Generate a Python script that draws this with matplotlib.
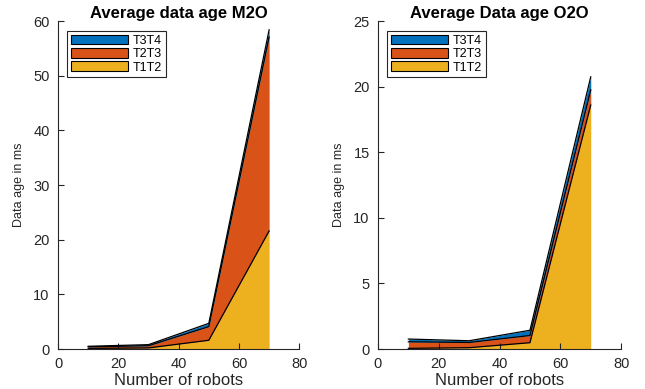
import matplotlib
matplotlib.use("Agg")
import matplotlib.pyplot as plt
from matplotlib.patches import Patch

plt.rcParams['font.family'] = ['Liberation Sans', 'DejaVu Sans']

robots = [10, 30, 50, 70]
series_names = ["T1T2", "T2T3", "T3T4"]
colors = ["#EDB120", "#D95319", "#0072BD"]

m2o_t1t2 = [0.1, 0.2, 1.6, 21.6]
m2o_t2t3 = [0.3, 0.4, 2.5, 35.5]
m2o_t3t4 = [0.1, 0.2, 0.6, 1.3]

o2o_t1t2 = [0.05, 0.1, 0.48, 18.6]
o2o_t2t3 = [0.5, 0.4, 0.55, 1.15]
o2o_t3t4 = [0.21, 0.13, 0.4, 1.0]

titles = ["Average data age M2O", "Average Data age O2O"]
ylims = [60, 25]
yticks_list = [[0, 10, 20, 30, 40, 50, 60], [0, 5, 10, 15, 20, 25]]
xticks = [0, 20, 40, 60, 80]

fig = plt.figure(figsize=(6.45, 3.89), dpi=100)
ax1 = fig.add_axes([0.090, 0.1028, 0.374, 0.843])
ax2 = fig.add_axes([0.586, 0.1028, 0.377, 0.843])

datasets = [[m2o_t1t2, m2o_t2t3, m2o_t3t4], [o2o_t1t2, o2o_t2t3, o2o_t3t4]]

for ax, data, title, ylim, yt in zip([ax1, ax2], datasets, titles, ylims, yticks_list):
    base = [0.0] * len(robots)
    for vals, col in zip(data, colors):
        top = [b + v for b, v in zip(base, vals)]
        ax.fill_between(robots, base, top, color=col, linewidth=0)
        ax.plot(robots, top, color='black', linewidth=0.9)
        base = top
    ax.set_xlim(0, 80)
    ax.set_ylim(0, ylim)
    ax.set_xticks(xticks)
    ax.set_yticks(yt)
    ax.spines['top'].set_visible(False)
    ax.spines['right'].set_visible(False)
    for s in ['left', 'bottom']:
        ax.spines[s].set_color('#262626')
        ax.spines[s].set_linewidth(0.8)
    ax.tick_params(direction='in', length=4, width=0.8, colors='#262626', labelsize=10.5)
    ax.tick_params(axis='y', pad=6)
    ax.tick_params(axis='x', pad=6)
    ax.set_title(title, fontsize=12, fontweight='bold', pad=2)
    ax.set_xlabel("Number of robots", fontsize=12, labelpad=1, color='#262626')
    ax.set_ylabel("Data age in ms", fontsize=9, labelpad=6, color='#262626')
    handles = [Patch(facecolor=c, edgecolor='black', linewidth=0.8) for c in colors[::-1]]
    leg = ax.legend(handles, series_names[::-1], loc='upper left', bbox_to_anchor=(0.037, 0.97),
                    fontsize=9, handlelength=4.6, handleheight=0.8, handletextpad=0.35,
                    labelspacing=0.1, borderpad=0.3, fancybox=False, framealpha=1,
                    edgecolor='#262626', borderaxespad=0)
    leg.get_frame().set_linewidth(0.8)

fig.savefig("out.png", dpi=100)
